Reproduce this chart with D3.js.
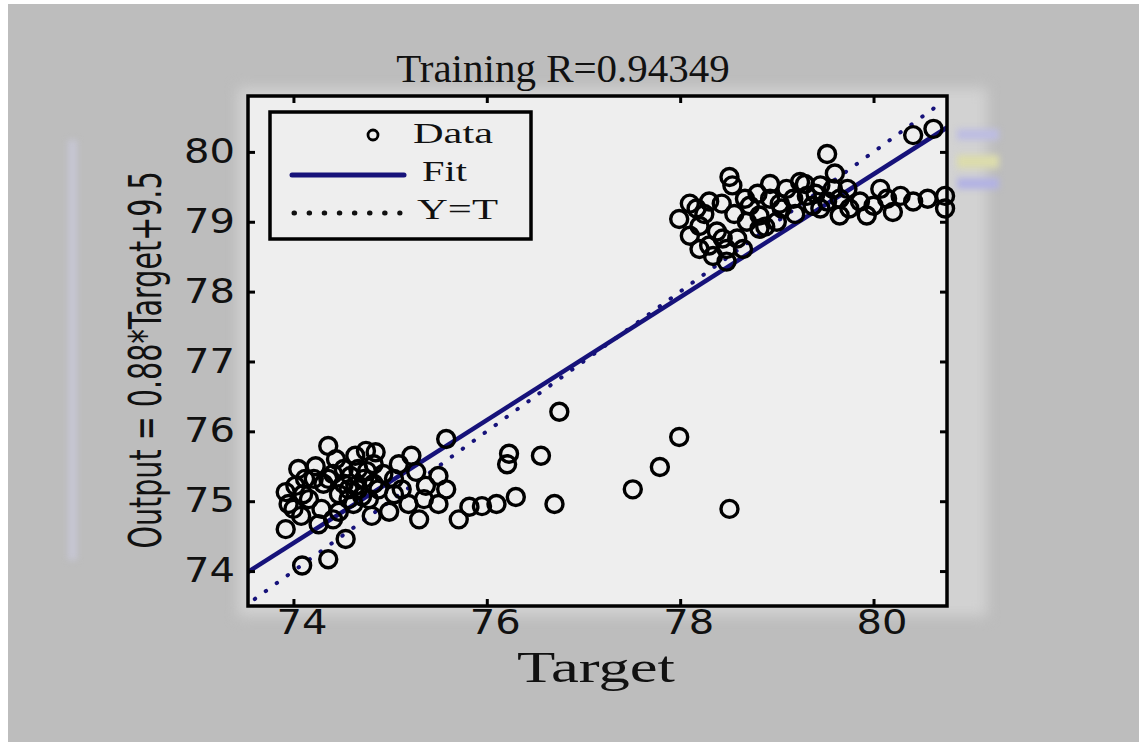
<!DOCTYPE html>
<html>
<head>
<meta charset="utf-8">
<script src="https://cdn.jsdelivr.net/npm/d3@7/dist/d3.min.js"></script>
<style>
  html, body { margin: 0; padding: 0; background: #fff; }
  svg { display: block; }
</style>
</head>
<body>
<div id="chart"></div>
<script>
// values
var targets = [
  76.75, 76.23, 76.21, 76.56, 76.30, 76.70, 76.10, 75.95, 75.82, 75.71,
  75.58, 75.50, 75.37, 75.27, 75.12, 74.99, 74.81, 74.85, 74.64, 74.36,
  74.44, 74.23, 74.02, 73.92, 74.12, 74.64, 74.71, 73.92, 74.08, 74.29,
  74.47, 74.54, 74.36, 74.09, 75.58, 75.22, 75.09, 75.35, 77.99, 77.79,
  77.51, 78.51, 74.57, 74.73, 74.88, 74.47, 74.31, 74.62, 74.78, 74.93,
  75.04, 74.16, 74.05, 74.52, 74.67, 74.83, 74.41, 74.26, 74.00, 75.19,
  75.30, 74.36, 74.59, 73.95, 75.50, 74.75, 74.52, 74.67, 74.83, 74.41,
  74.76, 74.57, 74.21, 74.10, 75.04,
  79.52, 80.41, 80.62, 78.51, 78.54, 77.99, 78.17, 78.30, 78.20, 78.10,
  78.38, 78.30, 78.48, 78.59, 78.69, 78.82, 78.72, 78.93, 79.10, 79.24,
  79.17, 79.31, 79.45, 79.58, 79.37, 79.52, 79.65, 79.73, 79.86, 80.00,
  80.14, 80.28, 80.41, 80.56, 80.74, 80.74, 80.20, 79.93, 79.65, 78.82,
  79.00, 78.65, 78.48, 78.34, 79.03, 79.45, 78.25, 78.43, 78.56, 78.67,
  78.80, 78.88, 79.05, 79.19, 79.29, 79.40, 79.75, 80.07, 78.44, 78.20,
  78.10, 78.93, 79.60
];
var outputs = [
  76.28, 75.68, 75.53, 75.65, 75.06, 74.96, 74.96, 74.93, 74.92, 74.74,
  75.17, 75.36, 75.22, 75.42, 75.17, 74.85, 74.79, 75.70, 75.65, 75.79,
  75.60, 75.50, 75.22, 75.13, 75.32, 75.22, 75.07, 74.60, 74.79, 74.89,
  74.85, 74.46, 74.17, 74.08, 75.89, 75.65, 75.53, 75.03, 75.92, 75.49,
  75.17, 74.89, 75.17, 75.32, 75.17, 75.10, 75.25, 74.96, 75.03, 75.39,
  75.10, 75.03, 75.46, 75.46, 75.46, 75.53, 74.74, 74.67, 74.89, 74.96,
  74.74, 75.32, 75.36, 74.96, 74.96, 75.72, 75.25, 75.17, 75.25, 75.39,
  75.43, 75.03, 75.32, 75.10, 75.32,
  79.97, 80.24, 80.33, 79.64, 79.52, 79.04, 79.19, 79.29, 78.94, 78.80,
  78.86, 78.66, 78.61, 78.76, 79.00, 79.09, 79.23, 79.33, 79.47, 79.57,
  79.33, 79.37, 79.52, 79.47, 79.23, 79.29, 79.33, 79.47, 79.29, 79.23,
  79.33, 79.37, 79.29, 79.33, 79.37, 79.19, 79.14, 79.09, 79.09, 78.90,
  79.00, 78.61, 78.43, 78.51, 79.26, 79.19, 79.11, 79.26, 79.11, 79.33,
  79.40, 78.93, 79.19, 79.11, 79.54, 79.40, 79.19, 79.47, 78.76, 78.61,
  79.26, 79.54, 79.69
];
var xTicks = [74, 76, 78, 80];
var yTicks = [74, 75, 76, 77, 78, 79, 80];
var fitSlope = 0.88, fitIntercept = 9.28;
var legendLabels = ["Data", "Fit", "Y=T"];
var titleText = "Training R=0.94349";
var xLabel = "Target";
var yLabel = "Output = 0.88*Target+9.5";

var W = 1139, H = 742;
var box = {left: 248, right: 947, top: 96, bottom: 606};
var navy = "#16127a";
var serif = "'Liberation Serif', 'Times New Roman', serif";
var sans = "'DejaVu Sans', sans-serif";

var svg = d3.select("#chart").append("svg")
  .attr("width", W).attr("height", H);

// gray backdrop, thin white strip on the left/top like the scan
svg.append("rect").attr("width", W).attr("height", H).attr("fill", "#fff");
svg.append("rect").attr("x", 8).attr("y", 4).attr("width", W - 8).attr("height", H - 4).attr("fill", "#bdbdbd");
// faint light halo round the axes box
svg.append("rect")
  .attr("x", box.left - 10).attr("y", box.top - 8)
  .attr("width", box.right - box.left + 50).attr("height", box.bottom - box.top + 18)
  .attr("fill", "#d2d2d2").style("filter", "blur(7px)");
// scan smudges beside the box
var smudges = [
  {x: 957, y: 129, w: 42, h: 11, c: "#bdbde2"},
  {x: 957, y: 155, w: 42, h: 13, c: "#dcdcac"},
  {x: 957, y: 178, w: 42, h: 11, c: "#b2b2e4"},
  {x: 68, y: 140, w: 9, h: 420, c: "#c6c6d4"}
];
svg.selectAll("rect.smudge").data(smudges).enter().append("rect")
  .attr("class", "smudge")
  .attr("x", function(d) { return d.x; }).attr("y", function(d) { return d.y; })
  .attr("width", function(d) { return d.w; }).attr("height", function(d) { return d.h; })
  .attr("fill", function(d) { return d.c; })
  .style("filter", "blur(3px)");

var x = d3.scaleLinear().domain([73.53, 80.76]).range([box.left, box.right]);
var y = d3.scaleLinear().domain([73.5, 80.8]).range([box.bottom, box.top]);

// plot area
svg.append("rect")
  .attr("x", box.left).attr("y", box.top)
  .attr("width", box.right - box.left).attr("height", box.bottom - box.top)
  .attr("fill", "#eeeeee");

var plot = svg.append("g");

// Y = T dotted line
plot.append("line")
  .attr("x1", x(73.6)).attr("y1", y(73.6))
  .attr("x2", x(80.7)).attr("y2", y(80.7))
  .attr("stroke", navy).attr("stroke-width", 4)
  .attr("stroke-linecap", "round")
  .attr("stroke-dasharray", "0.5,13");

// fit line
var xd = x.domain();
plot.append("line")
  .attr("x1", x(xd[0])).attr("y1", y(fitSlope * xd[0] + fitIntercept))
  .attr("x2", x(xd[1])).attr("y2", y(fitSlope * xd[1] + fitIntercept))
  .attr("stroke", navy).attr("stroke-width", 4.5);

// data circles
var pts = targets.map(function(t, i) { return {t: t, o: outputs[i]}; });
plot.selectAll("circle.pt").data(pts).enter().append("circle")
  .attr("class", "pt")
  .attr("cx", function(d) { return x(d.t); })
  .attr("cy", function(d) { return y(d.o); })
  .attr("r", 8.5)
  .attr("fill", "none")
  .attr("stroke", "#000")
  .attr("stroke-width", 3.4);

// axes, ticks pointing inward (MATLAB box)
var axB = svg.append("g").attr("transform", "translate(0," + box.bottom + ")")
  .call(d3.axisBottom(x).tickValues(xTicks).tickSizeInner(-7).tickSizeOuter(0).tickPadding(5));
var axT = svg.append("g").attr("transform", "translate(0," + box.top + ")")
  .call(d3.axisTop(x).tickValues(xTicks).tickSizeInner(-7).tickSizeOuter(0).tickFormat(""));
var axL = svg.append("g").attr("transform", "translate(" + box.left + ",0)")
  .call(d3.axisLeft(y).tickValues(yTicks).tickSizeInner(-7).tickSizeOuter(0).tickPadding(13));
var axR = svg.append("g").attr("transform", "translate(" + box.right + ",0)")
  .call(d3.axisRight(y).tickValues(yTicks).tickSizeInner(-7).tickSizeOuter(0).tickFormat(""));

[axB, axT, axL, axR].forEach(function(a) {
  a.select(".domain").remove();
  a.selectAll(".tick line").attr("stroke", "#000").attr("stroke-width", 3);
  a.selectAll(".tick text")
    .attr("fill", "#111")
    .attr("textLength", 51)
    .attr("lengthAdjust", "spacingAndGlyphs")
    .style("font-family", sans)
    .style("font-size", "33px");
});
axB.selectAll(".tick text").attr("dx", 8);

svg.append("rect")
  .attr("x", box.left).attr("y", box.top)
  .attr("width", box.right - box.left).attr("height", box.bottom - box.top)
  .attr("fill", "none").attr("stroke", "#000").attr("stroke-width", 3.5);

// legend
var lg = svg.append("g").attr("transform", "translate(270,112)");
lg.append("rect").attr("width", 261).attr("height", 127)
  .attr("fill", "#eeeeee").attr("stroke", "#000").attr("stroke-width", 3.5);
lg.append("circle").attr("cx", 103).attr("cy", 23).attr("r", 5)
  .attr("fill", "none").attr("stroke", "#000").attr("stroke-width", 2.8);
lg.append("line").attr("x1", 22).attr("x2", 134).attr("y1", 63).attr("y2", 63)
  .attr("stroke", navy).attr("stroke-width", 5).attr("stroke-linecap", "round");
lg.append("line").attr("x1", 24).attr("x2", 130).attr("y1", 101).attr("y2", 101)
  .attr("stroke", "#111").attr("stroke-width", 5).attr("stroke-linecap", "round")
  .attr("stroke-dasharray", "0.5,14.6");
var lgX = [143, 152, 147], lgW = [80, 45, 81];
lg.selectAll("text.lg").data(legendLabels).enter().append("text")
  .attr("class", "lg")
  .attr("x", function(d, i) { return lgX[i]; })
  .attr("y", function(d, i) { return 31 + i * 38; })
  .attr("textLength", function(d, i) { return lgW[i]; })
  .attr("lengthAdjust", "spacingAndGlyphs")
  .style("font-family", serif)
  .style("font-size", "30px")
  .attr("fill", "#111")
  .text(function(d) { return d; });

// title and axis labels
svg.append("text")
  .attr("x", 563).attr("y", 82)
  .attr("text-anchor", "middle")
  .style("font-family", serif)
  .style("font-size", "41px")
  .attr("fill", "#111")
  .text(titleText);

svg.append("text")
  .attr("x", 596).attr("y", 682)
  .attr("text-anchor", "middle")
  .attr("textLength", 158)
  .attr("lengthAdjust", "spacingAndGlyphs")
  .style("font-family", serif)
  .style("font-size", "44px")
  .attr("fill", "#111")
  .text(xLabel);

// y label: squeezed along its length to fit the box height like the original
svg.append("text")
  .attr("transform", "translate(161,360) rotate(-90) scale(0.65,1)")
  .attr("text-anchor", "middle")
  .style("font-family", sans)
  .style("font-size", "44px")
  .attr("fill", "#111")
  .text(yLabel);
</script>
</body>
</html>
